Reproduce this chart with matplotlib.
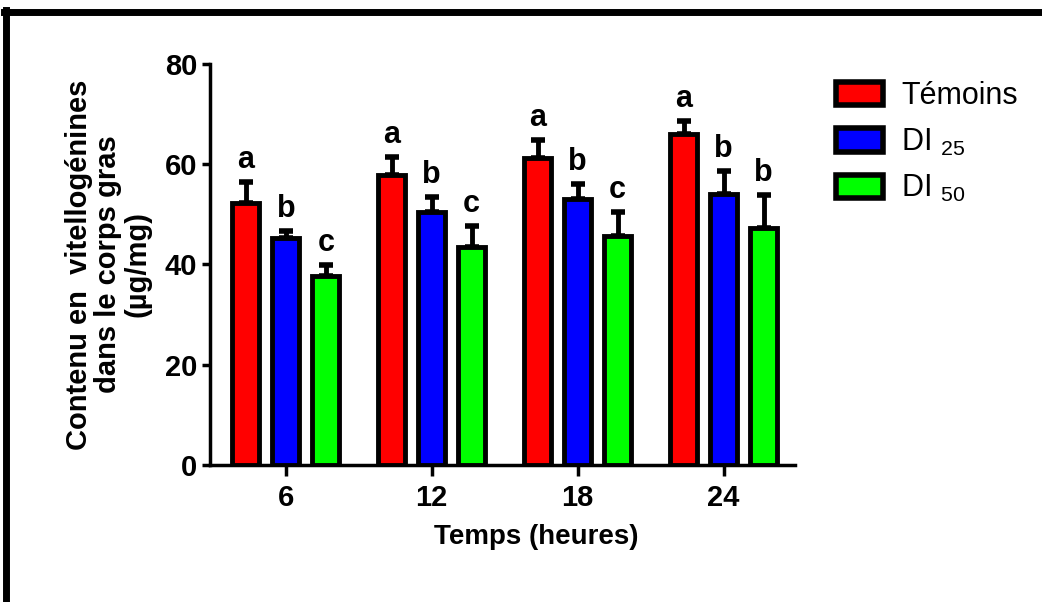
import numpy as np
import matplotlib
matplotlib.use("Agg")
import matplotlib.pyplot as plt
from matplotlib.patches import Patch
from matplotlib.lines import Line2D

plt.rcParams['font.family'] = ['Liberation Sans', 'DejaVu Sans']
plt.rcParams['mathtext.default'] = 'regular'

# donnees
temps = ["6", "12", "18", "24"]
series = ["Témoins", "DI $_{25}$", "DI $_{50}$"]
temoins = [52.3, 57.9, 61.3, 66.1]
temoins_err = [4.2, 3.6, 3.6, 2.6]
di25 = [45.3, 50.5, 53.1, 54.1]
di25_err = [1.4, 3.0, 3.0, 4.6]
di50 = [37.7, 43.5, 45.7, 47.3]
di50_err = [2.2, 4.2, 4.8, 6.6]
lettres = [["a", "a", "a", "a"], ["b", "b", "b", "b"], ["c", "c", "c", "b"]]

couleurs = ["#ff0000", "#0000ff", "#00ff00"]
valeurs = [temoins, di25, di50]
erreurs = [temoins_err, di25_err, di50_err]

fig = plt.figure(figsize=(10.42, 6.02), dpi=100)
ax = fig.add_axes([0.2015, 0.2276, 0.5615, 0.6661])

x = np.arange(len(temps))
w = 0.185
dx = 0.274
for i in range(3):
    pos = x + (i - 1) * dx
    ax.bar(pos, valeurs[i], w, color=couleurs[i], edgecolor="black",
           linewidth=3.5, zorder=3,
           yerr=[np.zeros(len(temps)), erreurs[i]],
           error_kw=dict(ecolor="black", elinewidth=3.5, capsize=5,
                         capthick=4, zorder=2))
    for j in range(len(temps)):
        ax.annotate(lettres[i][j], (pos[j], valeurs[i][j] + erreurs[i][j]),
                    xytext=(0, 5), textcoords="offset points",
                    ha="center", va="bottom", fontsize=22, fontweight="bold")

ax.set_xlim(-0.52, 3.49)
ax.set_ylim(0, 80)
ax.set_yticks([0, 20, 40, 60, 80])
ax.set_xticks(x)
ax.set_xticklabels(temps)
for s in ["top", "right"]:
    ax.spines[s].set_visible(False)
for s in ["left", "bottom"]:
    ax.spines[s].set_linewidth(2.5)
ax.tick_params(axis="y", width=2.5, length=6, labelsize=21, pad=3)
ax.tick_params(axis="x", width=2.5, length=8, labelsize=21, pad=6)
for lab in ax.get_xticklabels() + ax.get_yticklabels():
    lab.set_fontweight("bold")

ax.set_xlabel("Temps (heures)", fontsize=20, fontweight="bold", labelpad=8,
              x=0.557)
ax.set_ylabel("Contenu en  vitellogénines\ndans le corps gras\n(µg/mg)",
              fontsize=21, fontweight="bold", labelpad=10, linespacing=1.05)

handles = [Patch(facecolor=c, edgecolor="black", linewidth=4) for c in couleurs]
leg = fig.legend(handles, series, loc="upper left", bbox_to_anchor=(0.802, 0.865),
                 frameon=False, fontsize=22, handlelength=1.55, handleheight=0.8,
                 handletextpad=0.6, labelspacing=0.5, borderpad=0,
                 borderaxespad=0)

# cadre noir
fig.add_artist(Line2D([0.004, 1.0], [1 - 12 / 602, 1 - 12 / 602],
                      transform=fig.transFigure, color="black", lw=5))
fig.add_artist(Line2D([0.006, 0.006], [0.0, 1 - 10 / 602],
                      transform=fig.transFigure, color="black", lw=5))

fig.savefig("out.png", dpi=100)
